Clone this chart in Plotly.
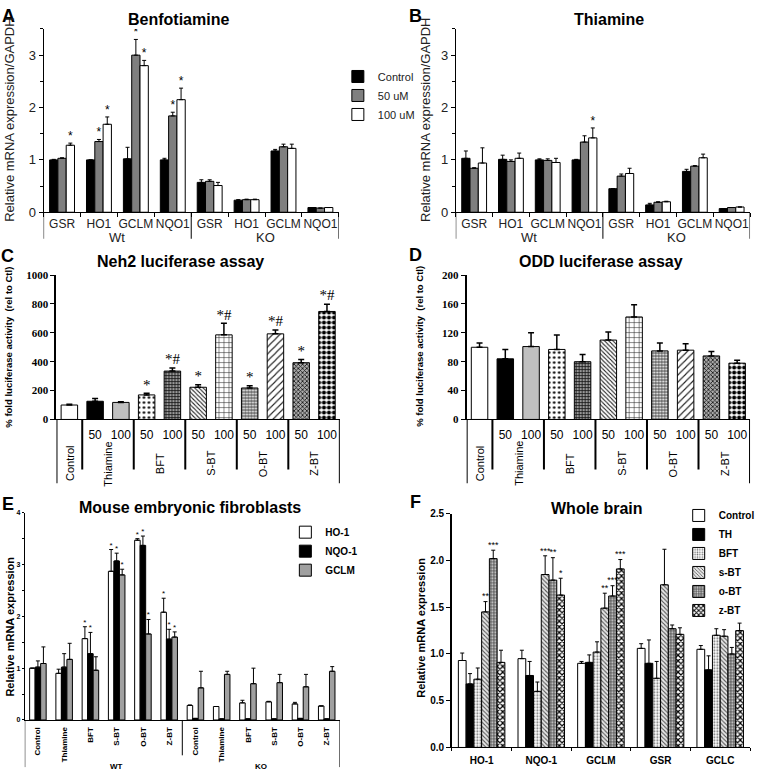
import plotly.graph_objects as go

W, H = 760, 781

# ======================= DATA =======================
# Panels A / B : relative mRNA expression / GAPDH
ab_genes = ["GSR", "HO1", "GCLM", "NQO1", "GSR", "HO1", "GCLM", "NQO1"]
ab_genotypes = ["Wt", "KO"]
ab_doses = ["Control", "50 uM", "100 uM"]

bft_ctrl = [1.00, 1.00, 1.02, 1.00, 0.57, 0.23, 1.17, 0.09]
bft_ctrl_err = [0.01, 0.00, 0.22, 0.03, 0.05, 0.01, 0.03, 0.00]
bft_50 = [1.03, 1.35, 3.00, 1.84, 0.59, 0.24, 1.25, 0.08]
bft_50_err = [0.01, 0.04, 0.30, 0.07, 0.03, 0.01, 0.05, 0.00]
bft_100 = [1.28, 1.68, 2.80, 2.15, 0.51, 0.24, 1.22, 0.09]
bft_100_err = [0.04, 0.14, 0.10, 0.22, 0.06, 0.01, 0.08, 0.00]
bft_sig_ctrl = ["", "", "", "", "", "", "", ""]
bft_sig_50 = ["", "*", "*", "*", "", "", "", ""]
bft_sig_100 = ["*", "*", "*", "*", "", "", "", ""]

thi_ctrl = [1.03, 1.01, 1.00, 1.00, 0.45, 0.14, 0.78, 0.07]
thi_ctrl_err = [0.14, 0.08, 0.02, 0.01, 0.00, 0.03, 0.04, 0.00]
thi_50 = [0.84, 0.97, 0.99, 1.34, 0.69, 0.19, 0.88, 0.09]
thi_50_err = [0.01, 0.03, 0.03, 0.12, 0.04, 0.01, 0.01, 0.00]
thi_100 = [0.94, 1.03, 0.95, 1.42, 0.74, 0.20, 1.04, 0.10]
thi_100_err = [0.29, 0.10, 0.08, 0.19, 0.10, 0.01, 0.07, 0.00]
thi_sig_ctrl = ["", "", "", "", "", "", "", ""]
thi_sig_50 = ["", "", "", "", "", "", "", ""]
thi_sig_100 = ["", "", "", "*", "", "", "", ""]

# Panels C / D : luciferase assays
luc_groups = ["Control", "Thiamine", "BFT", "S-BT", "O-BT", "Z-BT"]
luc_doses = ["", "50", "100", "50", "100", "50", "100", "50", "100", "50", "100"]
neh2 = [100, 126, 118, 170, 335, 223, 586, 218, 593, 393, 748]
neh2_err = [6, 19, 5, 11, 22, 17, 80, 16, 27, 22, 50]
neh2_sig = ["", "", "", "*", "*#", "*", "*#", "*", "*#", "*", "*#"]
odd = [100, 84, 101, 97, 80, 110, 142, 95, 96, 88, 78]
odd_err = [6, 13, 19, 20, 10, 11, 17, 11, 9, 6, 4]

# Panel E : mouse embryonic fibroblasts
mef_treat = ["Control", "Thiamine", "BFT", "S-BT", "O-BT", "Z-BT",
             "Control", "Thiamine", "BFT", "S-BT", "O-BT", "Z-BT"]
mef_genotypes = ["WT", "KO"]
mef_genes = ["HO-1", "NQO-1", "GCLM"]
mef_ho1 = [1.00, 0.90, 1.57, 2.87, 3.47, 2.08, 0.28, 0.26, 0.33, 0.35, 0.31, 0.27]
mef_ho1_err = [0.00, 0.08, 0.23, 0.42, 0.03, 0.27, 0.01, 0.00, 0.05, 0.01, 0.03, 0.00]
mef_nqo1 = [1.02, 1.02, 1.28, 3.07, 3.37, 1.56, 0.03, 0.02, 0.02, 0.02, 0.03, 0.02]
mef_nqo1_err = [0.12, 0.26, 0.41, 0.15, 0.18, 0.19, 0.00, 0.00, 0.00, 0.00, 0.00, 0.00]
mef_gclm = [1.09, 1.17, 0.96, 2.80, 1.66, 1.60, 0.62, 0.88, 0.70, 0.72, 0.64, 0.94]
mef_gclm_err = [0.32, 0.31, 0.26, 0.11, 0.28, 0.10, 0.32, 0.06, 0.30, 0.16, 0.24, 0.09]
mef_sig_ho1 = ["", "", "*", "*", "*", "*", "", "", "", "", "", ""]
mef_sig_nqo1 = ["", "", "*", "*", "*", "*", "", "", "", "", "", ""]
mef_sig_gclm = ["", "", "", "*", "*", "*", "", "", "", "", "", ""]

# Panel F : whole brain
brain_genes = ["HO-1", "NQO-1", "GCLM", "GSR", "GCLC"]
brain_groups = ["Control", "TH", "BFT", "s-BT", "o-BT", "z-BT"]
brain_ctrl = [0.93, 0.95, 0.90, 1.06, 1.05]
brain_ctrl_err = [0.08, 0.09, 0.02, 0.05, 0.04]
brain_th = [0.68, 0.77, 0.91, 0.90, 0.83]
brain_th_err = [0.11, 0.15, 0.08, 0.25, 0.15]
brain_bft = [0.73, 0.60, 1.02, 0.74, 1.20]
brain_bft_err = [0.12, 0.10, 0.11, 0.18, 0.07]
brain_sbt = [1.45, 1.85, 1.49, 1.74, 1.19]
brain_sbt_err = [0.11, 0.20, 0.16, 0.38, 0.07]
brain_obt = [2.02, 1.79, 1.62, 1.27, 1.00]
brain_obt_err = [0.09, 0.24, 0.11, 0.04, 0.07]
brain_zbt = [0.91, 1.63, 1.91, 1.21, 1.25]
brain_zbt_err = [0.13, 0.18, 0.10, 0.07, 0.08]
brain_sig_sbt = ["**", "***", "**", "", ""]
brain_sig_obt = ["***", "**", "***", "", ""]
brain_sig_zbt = ["", "*", "***", "", ""]

# ======================= STYLE =======================
SANS = "Liberation Sans, Arial, sans-serif"
SERIF = "Liberation Serif, Times New Roman, serif"


def px(x):
    return x / W


def py(y):
    return 1 - y / H


fig = go.Figure()


def make_marker(st):
    marker = dict(color=st["color"], line=dict(color="black", width=1))
    if st.get("shape"):
        marker["pattern"] = dict(shape=st["shape"], fgcolor=st["fg"], bgcolor=st["bg"],
                                 size=st["size"], solidity=st["sol"], fillmode="replace")
    return marker


def add_group(xa, ya, values_list, errs_list, sigs_list, names, width,
              styles, legend=None, sig_size=12, sig_font=SANS):
    n = len(values_list)
    for i in range(n):
        vals = values_list[i]
        errs = errs_list[i]
        off = (-n / 2 + i) * width
        xs = list(range(len(vals)))
        fig.add_trace(go.Bar(
            x=xs, y=vals, width=width, offset=off, name=names[i],
            xaxis=xa, yaxis=ya, marker=make_marker(styles[i]),
            error_y=dict(type="data", array=errs, arrayminus=[0] * len(errs), symmetric=False,
                         color="black", thickness=1, width=2),
            showlegend=legend is not None,
            legend=legend if legend else "legend",
        ))
        sig = sigs_list[i]
        idx = [j for j in range(len(vals)) if sig[j]]
        if idx:
            fig.add_trace(go.Scatter(
                x=[xs[j] + off + width / 2 for j in idx], y=[vals[j] + errs[j] for j in idx],
                text=[sig[j] for j in idx], mode="text", textposition="top center",
                textfont=dict(family=sig_font, size=sig_size, color="black"),
                xaxis=xa, yaxis=ya, showlegend=False, hoverinfo="skip"))


# ---- A & B ----
ab_styles = [dict(color="black"), dict(color="#7f7f7f"), dict(color="white")]
add_group("x", "y", [bft_ctrl, bft_50, bft_100], [bft_ctrl_err, bft_50_err, bft_100_err],
          [bft_sig_ctrl, bft_sig_50, bft_sig_100], ab_doses, 0.225, ab_styles, legend="legend")
add_group("x2", "y2", [thi_ctrl, thi_50, thi_100], [thi_ctrl_err, thi_50_err, thi_100_err],
          [thi_sig_ctrl, thi_sig_50, thi_sig_100], ab_doses, 0.225, ab_styles, legend=None)

# ---- C & D : one trace per bar so that each gets its own fill pattern ----
luc_styles = [
    dict(color="white"),
    dict(color="black"),
    dict(color="#c0c0c0"),
    dict(color="white", shape=".", fg="black", bg="white", size=5, sol=0.2),
    dict(color="#888", shape="+", fg="#111", bg="#999", size=3, sol=0.45),
    dict(color="white", shape="\\", fg="#222", bg="white", size=3, sol=0.35),
    dict(color="white", shape="+", fg="#222", bg="white", size=5, sol=0.2),
    dict(color="#777", shape=".", fg="white", bg="#666", size=3, sol=0.35),
    dict(color="white", shape="/", fg="#222", bg="white", size=5, sol=0.22),
    dict(color="#999", shape="x", fg="#111", bg="#aaa", size=3, sol=0.45),
    dict(color="white", shape=".", fg="black", bg="white", size=5, sol=0.55),
]

for xa, ya, vals, errs in [("x3", "y3", neh2, neh2_err), ("x4", "y4", odd, odd_err)]:
    for i in range(len(vals)):
        fig.add_trace(go.Bar(
            x=[i], y=[vals[i]], width=0.64, xaxis=xa, yaxis=ya, showlegend=False,
            marker=make_marker(luc_styles[i]),
            error_y=dict(type="data", array=[errs[i]], arrayminus=[0], symmetric=False,
                         color="black", thickness=1.5, width=3),
        ))
sx = [i for i in range(len(neh2)) if neh2_sig[i]]
fig.add_trace(go.Scatter(x=sx, y=[neh2[i] + neh2_err[i] for i in sx], text=[neh2_sig[i] for i in sx],
                         mode="text", textposition="top center",
                         textfont=dict(family=SERIF, size=15, color="black"),
                         xaxis="x3", yaxis="y3", showlegend=False, hoverinfo="skip"))

# ---- E ----
e_styles = [dict(color="white"), dict(color="black"), dict(color="#a0a0a0")]
add_group("x5", "y5", [mef_ho1, mef_nqo1, mef_gclm], [mef_ho1_err, mef_nqo1_err, mef_gclm_err],
          [mef_sig_ho1, mef_sig_nqo1, mef_sig_gclm], mef_genes, 0.21, e_styles, legend="legend2",
          sig_size=8)

# ---- F ----
f_styles = [
    dict(color="white"),
    dict(color="black"),
    dict(color="white", shape=".", fg="#666", bg="white", size=3, sol=0.3),
    dict(color="#ddd", shape="\\", fg="#555", bg="#e6e6e6", size=3, sol=0.35),
    dict(color="#666", shape=".", fg="#ddd", bg="#666", size=3, sol=0.3),
    dict(color="white", shape="x", fg="black", bg="white", size=4, sol=0.5),
]
empty5 = ["", "", "", "", ""]
add_group("x6", "y6", [brain_ctrl, brain_th, brain_bft, brain_sbt, brain_obt, brain_zbt],
          [brain_ctrl_err, brain_th_err, brain_bft_err, brain_sbt_err, brain_obt_err, brain_zbt_err],
          [empty5, empty5, empty5, brain_sig_sbt, brain_sig_obt, brain_sig_zbt],
          brain_groups, 0.13, f_styles, legend="legend3", sig_size=9)

# ======================= AXES =======================
base = dict(showline=True, linecolor="black", linewidth=1, showgrid=False, zeroline=False,
            ticks="outside", tickcolor="black", fixedrange=True)


def xax(domain, anchor, **kw):
    d = dict(base)
    d.update(domain=[px(domain[0]), px(domain[1])], anchor=anchor)
    d.update(kw)
    return d


def yax(top, bottom, anchor, **kw):
    d = dict(base)
    d.update(domain=[py(bottom), py(top)], anchor=anchor)
    d.update(kw)
    return d


ab_x = dict(range=[-0.5, 7.5], tickvals=list(range(8)), ticktext=ab_genes, ticks="", tickangle=0,
            tickfont=dict(family=SANS, size=12, color="#222"), ticklabelstandoff=0,
            minor=dict(ticks="outside", tickvals=[i - 0.5 for i in range(9)], ticklen=4, tickcolor="black"))
ab_y = dict(range=[0, 3.5], tickvals=[0, 1, 2, 3], ticklen=4,
            tickfont=dict(family=SANS, size=13, color="#222"),
            minor=dict(ticks="outside", dtick=0.5, ticklen=3, tickcolor="black"))

luc_x = dict(range=[-0.5, 10.5], tickvals=list(range(11)), ticktext=luc_doses, ticks="", tickangle=0,
             tickfont=dict(family=SANS, size=12, color="black"), ticklabelstandoff=4)

fig.update_layout(
    xaxis=xax((44, 342), "y", **ab_x),
    yaxis=yax(23.4, 210, "x", **ab_y),
    xaxis2=xax((460, 757), "y2", **ab_x),
    yaxis2=yax(23.4, 210, "x2", **ab_y),
    xaxis3=xax((57, 343), "y3", **luc_x),
    yaxis3=yax(274, 421, "x3", range=[0, 1000], dtick=200, ticklen=4, linewidth=2,
               tickfont=dict(family=SERIF, size=11, color="black", weight="bold")),
    xaxis4=xax((471, 757), "y4", **luc_x),
    yaxis4=yax(274, 421, "x4", range=[0, 200], dtick=40, ticklen=4, linewidth=2,
               tickfont=dict(family=SERIF, size=11, color="black", weight="bold")),
    xaxis5=xax((25, 343), "y5", range=[-0.5, 11.5], tickvals=list(range(12)), ticktext=mef_treat,
               ticks="", tickangle=-90, ticklabelstandoff=3,
               tickfont=dict(family=SANS, size=8, color="black", weight="bold")),
    yaxis5=yax(516, 727, "x5", range=[0, 4], dtick=1, ticklen=2,
               tickfont=dict(family=SANS, size=7, color="black", weight="bold"),
               minor=dict(ticks="outside", dtick=0.5, ticklen=2, tickcolor="black")),
    xaxis6=xax((456, 757), "y6", range=[-0.5, 4.5], tickvals=list(range(5)), ticktext=brain_genes,
               ticks="", tickangle=0, ticklabelstandoff=4,
               tickfont=dict(family=SANS, size=10, color="black", weight="bold"),
               minor=dict(ticks="outside", tickvals=[i - 0.5 for i in range(6)], ticklen=3, tickcolor="black")),
    yaxis6=yax(517, 755, "x6", range=[0, 2.5], dtick=0.5, tickformat=".1f", ticklen=4, linewidth=1.5,
               tickfont=dict(family=SANS, size=10, color="black", weight="bold")),
)

# ======================= LEGENDS =======================
fig.update_layout(
    barmode="overlay",
    width=W, height=H,
    margin=dict(l=0, r=0, t=0, b=0),
    paper_bgcolor="white", plot_bgcolor="white",
    font=dict(family=SANS, color="black"),
    legend=dict(x=px(341), y=py(57), xanchor="left", yanchor="top", bgcolor="rgba(0,0,0,0)",
                font=dict(family=SANS, size=11, color="#222"), tracegroupgap=0),
    legend2=dict(x=px(288), y=py(521), xanchor="left", yanchor="top", bgcolor="rgba(0,0,0,0)",
                 font=dict(family=SANS, size=10, color="black", weight="bold"), tracegroupgap=0),
    legend3=dict(x=px(685), y=py(504), xanchor="left", yanchor="top", bgcolor="rgba(0,0,0,0)",
                 font=dict(family=SANS, size=10, color="black", weight="bold"), tracegroupgap=0),
)

# ======================= TEXT =======================
ann = []


def note(text, x, y, size, bold=False, angle=0, family=SANS, color="black", xref="paper", yref="paper"):
    ann.append(dict(text=text, x=x, y=y, xref=xref, yref=yref, showarrow=False, textangle=angle,
                    xanchor="center", yanchor="middle",
                    font=dict(family=family, size=size, color=color, weight="bold" if bold else "normal")))


# panel letters
for letter, lx, ly in [("A", 9, 10), ("B", 419, 10), ("C", 8, 255), ("D", 419, 254), ("E", 8, 507), ("F", 419, 505)]:
    note(letter, px(lx), py(ly), 18, bold=True)

# titles
note("Benfotiamine", px(180), py(14), 16, bold=True)
note("Thiamine", px(615), py(14), 16, bold=True)
note("Neh2 luciferase assay", px(182), py(260), 16, bold=True)
note("ODD luciferase assay", px(607), py(260), 16, bold=True)
note("Mouse embryonic fibroblasts", px(192), py(511), 16, bold=True)
note("Whole brain", px(603), py(512), 16, bold=True)

# y-axis titles
note("Relative mRNA expression/GAPDH", px(10), py(116), 13, angle=-90, color="#222")
note("Relative mRNA expression/GAPDH", px(430), py(116), 13, angle=-90, color="#222")
note("% fold luciferase activity  (rel to Ctl)", px(9), py(347), 9.5, bold=True, angle=-90)
note("% fold luciferase activity  (rel to Ctl)", px(424), py(347), 9.5, bold=True, angle=-90)
note("Relative mRNA expression", px(10), py(632), 11, bold=True, angle=-90)
note("Relative mRNA expression", px(425), py(633), 11, bold=True, angle=-90)

# genotype labels A / B
for xa in ["x", "x2"]:
    note(ab_genotypes[0], 1.5, py(236), 13, xref=xa, color="#222")
    note(ab_genotypes[1], 5.5, py(236), 13, xref=xa, color="#222")

# group labels C / D
grp_pos = [0, 1.5, 3.5, 5.5, 7.5, 9.5]
for xa in ["x3", "x4"]:
    for g, gx in zip(luc_groups, grp_pos):
        note(g, gx, py(466), 11, angle=-90, xref=xa)

# genotype labels E
note(mef_genotypes[0], 3.0, py(774), 8, bold=True, xref="x5")
note(mef_genotypes[1], 8.5, py(774), 8, bold=True, xref="x5")

fig.update_layout(annotations=ann)

# ======================= DIVIDER LINES =======================
shapes = []


def vline(xref, x, y0, y1, w=1):
    shapes.append(dict(type="line", xref=xref, yref="paper", x0=x, x1=x, y0=py(y0), y1=py(y1),
                       line=dict(color="black", width=w)))


for xa in ["x", "x2"]:
    for xv in [-0.5, 3.5, 7.5]:
        vline(xa, xv, 210, 237)
for xa in ["x3", "x4"]:
    for xv in [-0.5, 10.5]:
        vline(xa, xv, 421, 486, 2)
    for xv in [0.5, 2.5, 4.5, 6.5, 8.5]:
        vline(xa, xv, 421, 472, 2)
vline("x5", -0.5, 727, 775)
vline("x5", 11.5, 727, 775)
vline("x5", 5.5, 727, 763)

fig.update_layout(shapes=shapes)

fig.write_html("out.html", config={"displayModeBar": False},
               post_script="document.body.style.margin='0';document.body.style.overflow='hidden';")
